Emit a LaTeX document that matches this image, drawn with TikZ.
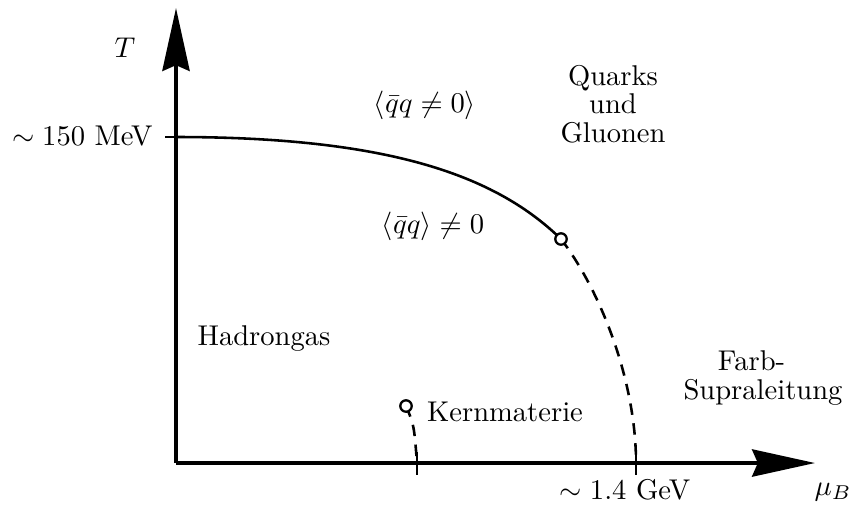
\documentclass[tikz,border=0pt]{standalone}
\usepackage{amsmath}
\usepackage{tikz}
\usetikzlibrary{arrows.meta,positioning,calc}

\begin{document}
\begin{tikzpicture}[x=0.0123cm,y=-0.0123cm,
  axis/.style={line width=1.4pt,-{Stealth[length=22pt,width=9.5pt,inset=2pt]}},
  phase/.style={line width=0.9pt},
  crossover/.style={line width=0.9pt,dash pattern=on 4pt off 3pt},
  tickmark/.style={line width=0.9pt},
  endpt/.style={circle,draw,line width=0.8pt,fill=white,inner sep=0pt,minimum size=4pt},
  lbl/.style={align=center,inner sep=1pt}]
  \useasboundingbox (0,0) rectangle (859,505);
  % axes
  \coordinate (O) at (176,463);
  \coordinate (Tend) at (176,8);
  \coordinate (muend) at (815,463);
  \draw[axis] (O) -- (muend);
  \draw[axis] (O) -- (Tend);
  \node[lbl] (Tlab) at (125,48) {$T$};
  \node[lbl] (mulab) at (833,492) {$\mu_B$};
  % marks on the axes
  \coordinate (Tc) at (176,137);
  \coordinate (muc) at (636,463);
  \coordinate (mun) at (417,463);
  \draw[tickmark] (Tc) -- ++(-11,0);
  \draw[tickmark] ($(muc)+(0,-11)$) -- ($(muc)+(0,12)$);
  \draw[tickmark] ($(mun)+(0,-11)$) -- ($(mun)+(0,12)$);
  \node[lbl,anchor=east] (Tcval) at (156,136) {$\sim 150$ MeV};
  \node[lbl] (mucval) at (625,490) {$\sim 1.4$ GeV};
  % phase boundary
  \coordinate (cp) at (561,239);
  \coordinate (kp) at (406,406);
  \draw[phase] (Tc) .. controls (400,137) and (500,180) .. (cp);
  \draw[crossover] (cp) .. controls (600,290) and (636,380) .. (muc);
  \draw[crossover] (kp) .. controls (414,425) .. (mun);
  \node[endpt] (cpdot) at (cp) {};
  \node[endpt] (kpdot) at (kp) {};
  % regions
  \node[lbl] (qgp) at (613,104) {Quarks\\[-2pt]und\\[-2pt]Gluonen};
  \node[lbl] (chisym) at (425,105) {$\langle\bar{q}q \neq 0\rangle$};
  \node[lbl] (chibrk) at (433,226) {$\langle\bar{q}q\rangle \neq 0$};
  \node[lbl] (hadr) at (264,339) {Hadrongas};
  \node[lbl] (kern) at (505,412) {Kernmaterie};
  \node[lbl] (csc) at (763,378) {Farb-\hspace*{8pt}\\[-2pt]Supraleitung};
\end{tikzpicture}
\end{document}
